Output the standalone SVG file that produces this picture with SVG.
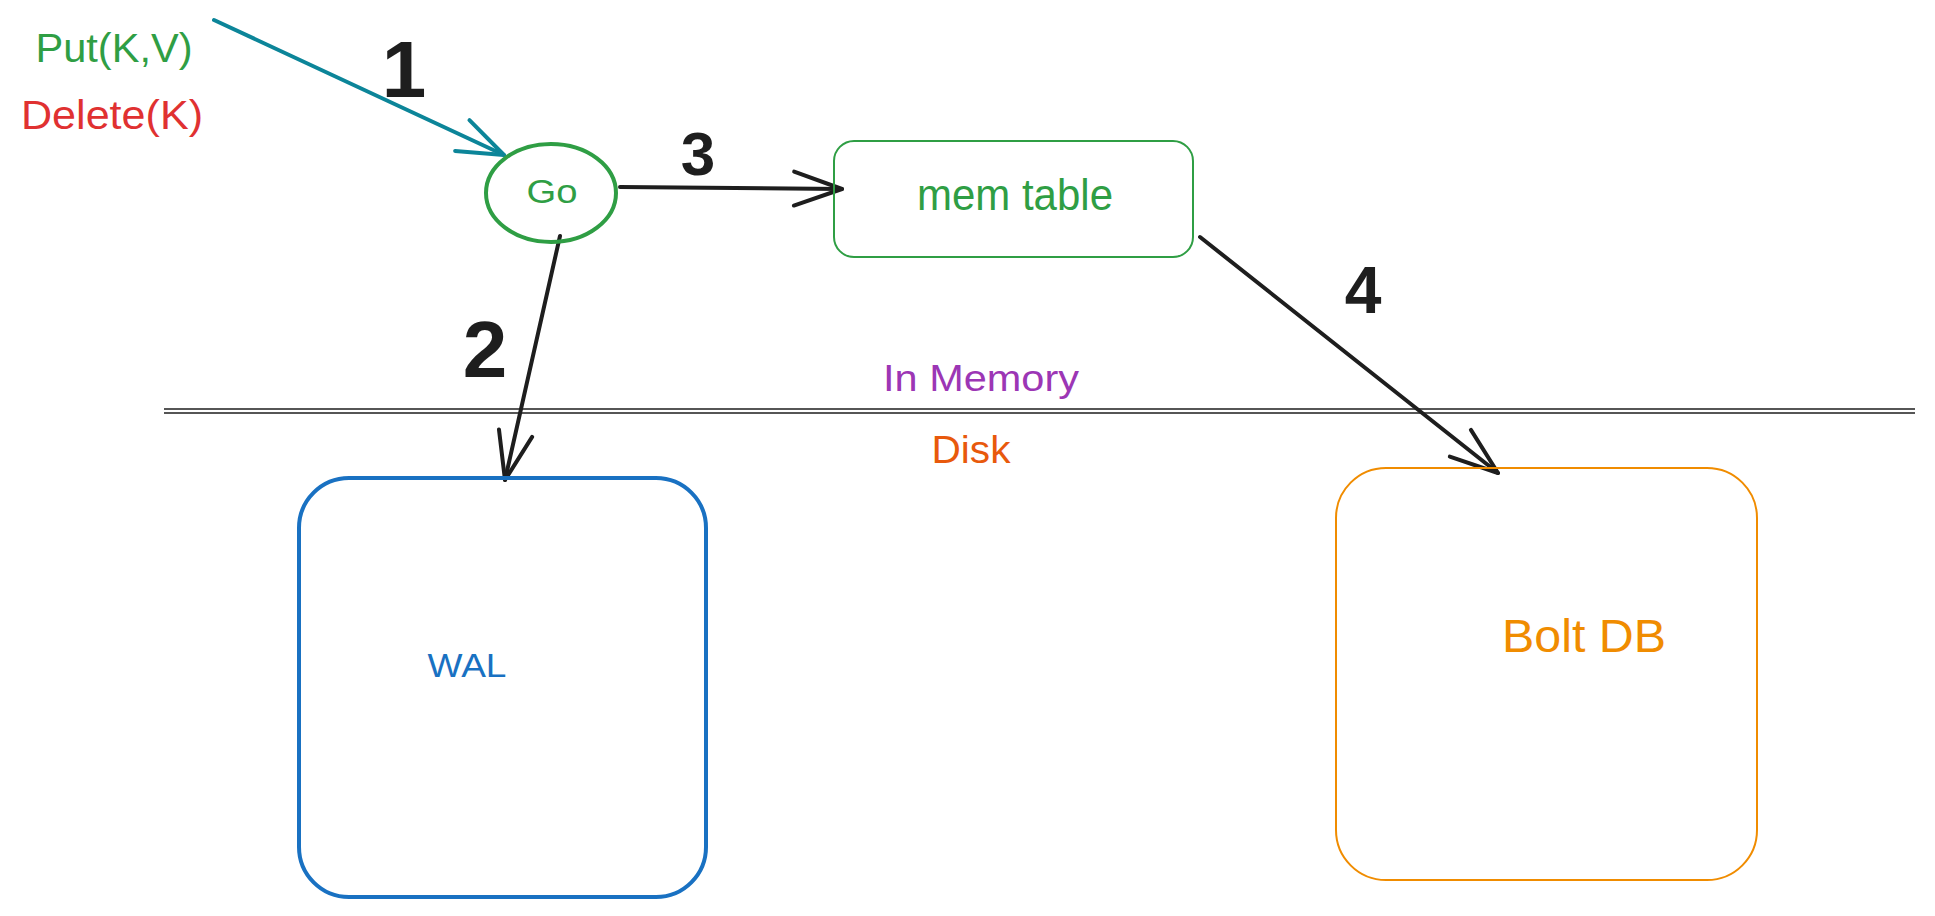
<svg xmlns="http://www.w3.org/2000/svg" width="1935" height="916" viewBox="0 0 1935 916">
<style>
  text { font-family: "Liberation Sans", Arial, sans-serif; text-anchor: middle; }
  .num { fill: #1e1e1e; font-weight: bold; }
  .conn { fill: none; stroke: #1e1e1e; stroke-width: 4; stroke-linecap: round; }
  .teal { stroke: #0c8599; }
  .sep { fill: none; stroke: #1e1e1e; stroke-width: 1.6; }
</style>
<defs>
  <marker id="headBlack" markerUnits="userSpaceOnUse" markerWidth="64" markerHeight="48" viewBox="-54 -24 64 48" refX="0" refY="0" orient="auto">
    <path d="M -48 -17 L 0 0 L -48 17" fill="none" stroke="#1e1e1e" stroke-width="4" stroke-linecap="round" stroke-linejoin="round"/>
  </marker>
  <marker id="headTeal" markerUnits="userSpaceOnUse" markerWidth="64" markerHeight="48" viewBox="-54 -24 64 48" refX="0" refY="0" orient="auto">
    <path d="M -46 -17 L 0 0 L -46 17" fill="none" stroke="#0c8599" stroke-width="4" stroke-linecap="round" stroke-linejoin="round"/>
  </marker>
</defs>
<rect width="1935" height="916" fill="#ffffff"/>

<g id="separator">
  <line class="sep" x1="164" y1="409" x2="1915" y2="409"/>
  <line class="sep" x1="164" y1="413" x2="1915" y2="413"/>
</g>

<g id="connectors">
  <path class="conn teal" d="M 214 20 L 504 155" marker-end="url(#headTeal)"/>
  <path class="conn" d="M 560 236 L 505 480" marker-end="url(#headBlack)"/>
  <path class="conn" d="M 620 187 L 842 189" marker-end="url(#headBlack)"/>
  <path class="conn" d="M 1200 237 L 1498 473" marker-end="url(#headBlack)"/>
</g>

<g id="labels">
  <text x="114" y="62" font-size="40" fill="#2f9e44" textLength="157" lengthAdjust="spacingAndGlyphs">Put(K,V)</text>
  <text x="112" y="129" font-size="40" fill="#e03131" textLength="182" lengthAdjust="spacingAndGlyphs">Delete(K)</text>
  <text class="num" x="404" y="97" font-size="80">1</text>
  <text class="num" x="485" y="377" font-size="80">2</text>
  <text class="num" x="698" y="175" font-size="62">3</text>
  <text class="num" x="1363" y="313" font-size="66">4</text>
  <text x="981" y="391" font-size="36" fill="#9c36b5" textLength="196" lengthAdjust="spacingAndGlyphs">In Memory</text>
  <text x="971" y="463" font-size="38" fill="#e8590c" textLength="79" lengthAdjust="spacingAndGlyphs">Disk</text>
</g>

<g id="node-go">
  <ellipse cx="551" cy="193" rx="65" ry="49" fill="none" stroke="#2f9e44" stroke-width="4"/>
  <text x="552" y="203" font-size="34" fill="#2f9e44" textLength="51" lengthAdjust="spacingAndGlyphs">Go</text>
</g>

<g id="node-memtable">
  <rect x="834" y="141" width="359" height="116" rx="20" fill="none" stroke="#2f9e44" stroke-width="2"/>
  <text x="1015" y="210" font-size="44" fill="#2f9e44" textLength="196" lengthAdjust="spacingAndGlyphs">mem table</text>
</g>

<g id="node-wal">
  <rect x="299" y="478" width="407" height="419" rx="50" fill="none" stroke="#1971c2" stroke-width="4"/>
  <text x="467" y="677" font-size="34" fill="#1971c2" textLength="79" lengthAdjust="spacingAndGlyphs">WAL</text>
</g>

<g id="node-boltdb">
  <rect x="1336" y="468" width="421" height="412" rx="50" fill="none" stroke="#f08c00" stroke-width="2"/>
  <text x="1584" y="652" font-size="46" fill="#f08c00" textLength="164" lengthAdjust="spacingAndGlyphs">Bolt DB</text>
</g>
</svg>
